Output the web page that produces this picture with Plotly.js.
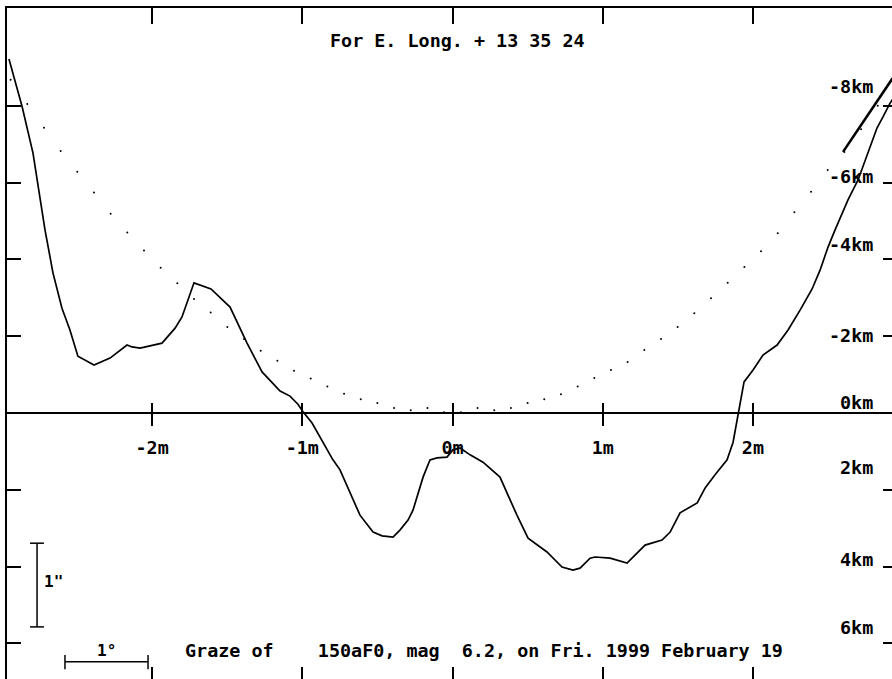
<!DOCTYPE html>
<html>
<head>
<meta charset="utf-8">
<script src="https://cdn.plot.ly/plotly-3.0.1.min.js"></script>
<style>html,body{margin:0;padding:0;background:#fff;}#chart{width:892px;height:679px;}</style>
</head>
<body>
<div id="chart"></div>
<script>
// ---- data (x in minutes of time, y in km; negative y = north/up) ----
const xTickVals = [-2, -1, 0, 1, 2];
const xTickText = ['-2m', '-1m', '0m', '1m', '2m'];
const yTickVals = [-8, -6, -4, -2, 0, 2, 4, 6];
const kmLabels = ['-8km', '-6km', '-4km', '-2km', '0km', '2km', '4km', '6km'];

const profileX = [-2.953,-2.866,-2.793,-2.713,-2.660,-2.600,-2.547,-2.494,-2.387,-2.280,-2.167,-2.134,-2.080,-1.934,-1.847,-1.801,-1.721,-1.701,-1.608,-1.481,-1.368,-1.268,-1.148,-1.082,-1.029,-0.995,-0.935,-0.796,-0.749,-0.616,-0.529,-0.469,-0.396,-0.350,-0.296,-0.263,-0.196,-0.150,-0.103,-0.037,0.003,0.050,0.117,0.203,0.316,0.429,0.503,0.629,0.729,0.802,0.849,0.916,0.949,1.049,1.162,1.282,1.395,1.449,1.515,1.629,1.682,1.748,1.828,1.868,1.901,1.941,2.001,2.067,2.161,2.234,2.314,2.394,2.447,2.500,2.547,2.633,2.700,2.780,2.826,2.866,2.913,2.946];
const profileY = [-9.22,-7.99,-6.77,-4.77,-3.65,-2.73,-2.16,-1.48,-1.25,-1.43,-1.77,-1.72,-1.69,-1.82,-2.21,-2.50,-3.39,-3.36,-3.23,-2.76,-1.82,-1.07,-0.57,-0.44,-0.23,-0.03,0.26,1.22,1.48,2.66,3.10,3.20,3.23,3.05,2.79,2.53,1.67,1.22,1.17,1.15,0.96,0.91,1.09,1.28,1.67,2.66,3.26,3.62,4.01,4.09,4.04,3.78,3.75,3.78,3.91,3.44,3.31,3.10,2.60,2.34,1.95,1.61,1.22,0.76,0.00,-0.81,-1.12,-1.51,-1.77,-2.16,-2.68,-3.23,-3.72,-4.32,-4.77,-5.55,-6.07,-6.93,-7.42,-7.71,-8.07,-8.26];

const limbX = [-2.942,-2.831,-2.720,-2.609,-2.498,-2.387,-2.276,-2.165,-2.054,-1.943,-1.832,-1.721,-1.610,-1.499,-1.388,-1.277,-1.166,-1.055,-0.944,-0.833,-0.722,-0.611,-0.500,-0.389,-0.278,-0.167,-0.056,0.056,0.167,0.278,0.389,0.500,0.611,0.722,0.833,0.944,1.055,1.166,1.277,1.388,1.499,1.610,1.721,1.832,1.943,2.054,2.165,2.276,2.387,2.498,2.609,2.720,2.831];
const limbY = [-8.68,-8.05,-7.43,-6.82,-6.28,-5.74,-5.19,-4.70,-4.23,-3.78,-3.38,-2.97,-2.62,-2.24,-1.93,-1.62,-1.36,-1.10,-0.90,-0.69,-0.50,-0.36,-0.26,-0.13,-0.07,-0.13,-0.02,-0.02,-0.13,-0.07,-0.13,-0.26,-0.36,-0.49,-0.69,-0.91,-1.12,-1.33,-1.64,-1.93,-2.24,-2.60,-2.99,-3.39,-3.80,-4.21,-4.68,-5.23,-5.76,-6.33,-6.80,-7.39,-8.00];

const edgeX = [2.600, 2.930];
const edgeY = [-6.80, -8.72];

// scale bars: 1" (vertical) and 1° (horizontal)
const barVX = [-2.813,-2.720,null,-2.766,-2.766,null,-2.813,-2.720];
const barVY = [3.39,3.39,null,3.39,5.57,null,5.57,5.57];
const barHX = [-2.580,-2.580,null,-2.580,-2.027,null,-2.027,-2.027];
const barHY = [6.30,6.67,null,6.48,6.48,null,6.30,6.67];

const titleText = 'For E. Long. + 13 35 24';
const footText = 'Graze of\u00a0\u00a0\u00a0\u00a0150aF0, mag\u00a0\u00a06.2, on Fri. 1999 February 19';

// ---- styling / layout ----
const mono = {family: '"DejaVu Sans Mono", "Liberation Mono", monospace', size: 18.4, color: '#000', weight: 'bold'};
const kmNudge = [19, 6, 15, 1, 11, 22, 7, 16];
const xRange = [-2.966, 2.926];
const yRange = [6.927, -10.547];
const zeroPos = 0.3964;

const traces = [
  {x: limbX, y: limbY, mode: 'markers', marker: {color: '#000', size: 2}, hoverinfo: 'skip'},
  {x: profileX, y: profileY, mode: 'lines', line: {color: '#000', width: 1.7}, hoverinfo: 'skip'},
  {x: edgeX, y: edgeY, mode: 'lines', line: {color: '#000', width: 2.6}, hoverinfo: 'skip'},
  {x: barVX, y: barVY, mode: 'lines', line: {color: '#000', width: 1.5}, hoverinfo: 'skip', connectgaps: false},
  {x: barHX, y: barHY, mode: 'lines', line: {color: '#000', width: 1.5}, hoverinfo: 'skip', connectgaps: false},
  {x: [], y: [], xaxis: 'x2', yaxis: 'y'},
  {x: [], y: [], xaxis: 'x3', yaxis: 'y'},
  {x: [], y: [], xaxis: 'x4', yaxis: 'y'},
  {x: [], y: [], xaxis: 'x', yaxis: 'y2'}
];

const axBase = {showgrid: false, zeroline: false, tickcolor: '#000', tickwidth: 2, linecolor: '#000', fixedrange: true};

const annotations = [
  {xref: 'paper', yref: 'paper', x: 0.509, y: 0.951, text: titleText, showarrow: false, font: mono, xanchor: 'center', yanchor: 'middle'},
  {xref: 'paper', yref: 'paper', x: (183 - 7) / 885, y: 0.0432, text: footText, showarrow: false, font: mono, xanchor: 'left', yanchor: 'middle'},
  {xref: 'paper', yref: 'paper', x: (42 - 7) / 885, y: 0.146, text: '1"', showarrow: false, font: Object.assign({}, mono, {size: 16}), xanchor: 'left', yanchor: 'middle'},
  {xref: 'paper', yref: 'paper', x: (106 - 7) / 885, y: 0.0432, text: '1°', showarrow: false, font: Object.assign({}, mono, {size: 16}), xanchor: 'center', yanchor: 'middle'}
];
kmLabels.forEach((t, i) => {
  annotations.push({xref: 'paper', yref: 'y', x: (875 - 7) / 885, y: yTickVals[i], yshift: kmNudge[i], text: t, showarrow: false, font: mono, xanchor: 'right', yanchor: 'middle'});
});

const layout = {
  width: 892, height: 679,
  margin: {l: 7, r: 0, t: 8, b: 0, pad: 0},
  paper_bgcolor: '#fff', plot_bgcolor: '#fff',
  showlegend: false,
  xaxis: Object.assign({}, axBase, {range: xRange, tickvals: xTickVals, ticks: 'inside', ticklen: 12, showticklabels: false, showline: false}),
  xaxis2: Object.assign({}, axBase, {range: xRange, overlaying: 'x', side: 'top', anchor: 'y', tickvals: xTickVals, ticks: 'inside', ticklen: 16, showticklabels: false, showline: true, linewidth: 2}),
  xaxis3: Object.assign({}, axBase, {range: xRange, overlaying: 'x', side: 'bottom', anchor: 'free', position: zeroPos, tickvals: xTickVals, ticktext: xTickText, ticks: 'outside', ticklen: 12, ticklabelstandoff: 6, showticklabels: true, showline: false, tickfont: mono}),
  xaxis4: Object.assign({}, axBase, {range: xRange, overlaying: 'x', side: 'top', anchor: 'free', position: zeroPos, tickvals: xTickVals, ticks: 'outside', ticklen: 10, showticklabels: false, showline: false}),
  yaxis: Object.assign({}, axBase, {range: yRange, tickvals: yTickVals, ticks: 'inside', ticklen: 14, showticklabels: false, showline: true, linewidth: 2, zeroline: true, zerolinecolor: '#000', zerolinewidth: 2}),
  yaxis2: Object.assign({}, axBase, {range: yRange, overlaying: 'y', side: 'right', anchor: 'x', tickvals: yTickVals, ticks: 'inside', ticklen: 9, showticklabels: false, showline: false}),
  annotations: annotations
};

Plotly.newPlot('chart', traces, layout, {staticPlot: true, displayModeBar: false});
</script>
</body>
</html>
